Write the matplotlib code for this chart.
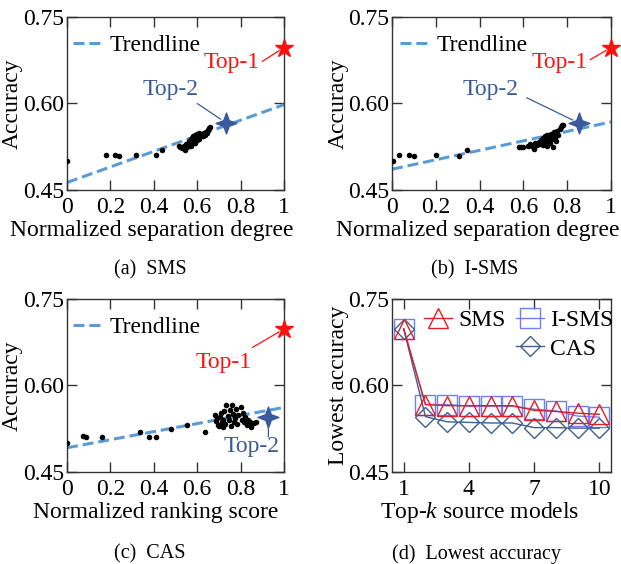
import matplotlib
matplotlib.use("Agg")
import matplotlib.pyplot as plt
from matplotlib.lines import Line2D
from matplotlib.path import Path
import numpy as np

plt.rcParams['font.family'] = ['Liberation Serif', 'DejaVu Serif']
plt.rcParams['mathtext.fontset'] = 'custom'
plt.rcParams['mathtext.rm'] = 'Liberation Serif'
plt.rcParams['mathtext.it'] = 'Liberation Serif:italic'
FS = 17

# ---- data ----
sms_x = [0.00, 0.179, 0.222, 0.238, 0.319, 0.410, 0.438, 0.515, 0.520,
         0.53, 0.54, 0.545, 0.55, 0.555, 0.56, 0.56, 0.565, 0.57, 0.57, 0.575,
         0.58, 0.58, 0.585, 0.59, 0.59, 0.595, 0.60, 0.60, 0.605, 0.61, 0.61,
         0.615, 0.62, 0.625, 0.63, 0.635, 0.64, 0.645, 0.65, 0.655, 0.66]
sms_y = [0.500, 0.511, 0.510, 0.509, 0.510, 0.510, 0.519, 0.526, 0.524,
         0.522, 0.527, 0.519, 0.530, 0.524, 0.535, 0.528, 0.532, 0.538, 0.526, 0.540,
         0.534, 0.543, 0.537, 0.545, 0.531, 0.541, 0.547, 0.536, 0.543, 0.549, 0.539,
         0.545, 0.547, 0.544, 0.548, 0.546, 0.551, 0.549, 0.554, 0.557, 0.560]
sms_top1 = (1.0, 0.697)
sms_top2 = (0.735, 0.566)
sms_trend = (0.463, 0.598)

isms_x = [0.006, 0.033, 0.079, 0.102, 0.20, 0.306, 0.341,
          0.58, 0.59, 0.60, 0.62, 0.63, 0.64, 0.65, 0.655, 0.66, 0.67, 0.675,
          0.68, 0.685, 0.69, 0.69, 0.695, 0.70, 0.70, 0.705, 0.71, 0.71, 0.715,
          0.72, 0.72, 0.725, 0.73, 0.735, 0.74, 0.745, 0.75, 0.755, 0.76, 0.765,
          0.77, 0.775, 0.78]
isms_y = [0.500, 0.511, 0.510, 0.509, 0.511, 0.509, 0.519,
          0.525, 0.525, 0.524, 0.527, 0.529, 0.526, 0.521, 0.532, 0.528, 0.534, 0.530,
          0.537, 0.532, 0.540, 0.528, 0.535, 0.543, 0.531, 0.538, 0.545, 0.527, 0.536,
          0.541, 0.532, 0.547, 0.538, 0.525, 0.550, 0.542, 0.535, 0.552, 0.546, 0.556,
          0.559, 0.562, 0.563]
isms_top1 = (1.0, 0.697)
isms_top2 = (0.854, 0.566)
isms_trend = (0.486, 0.568)

cas_x = [0.0, 0.072, 0.089, 0.16, 0.335, 0.377, 0.408, 0.478, 0.555, 0.637,
         0.68, 0.685, 0.69, 0.695, 0.70, 0.705, 0.71, 0.715, 0.72, 0.72, 0.725,
         0.73, 0.735, 0.74, 0.745, 0.75, 0.755, 0.76, 0.765, 0.77, 0.775, 0.78,
         0.785, 0.79, 0.80, 0.805, 0.81, 0.815, 0.82, 0.83, 0.835, 0.845, 0.85,
         0.86, 0.87]
cas_y = [0.500, 0.512, 0.511, 0.511, 0.519, 0.511, 0.511, 0.525, 0.531, 0.520,
         0.548, 0.538, 0.543, 0.532, 0.530, 0.545, 0.552, 0.536, 0.541, 0.528, 0.556,
         0.534, 0.566, 0.547, 0.540, 0.558, 0.530, 0.566, 0.550, 0.537, 0.544, 0.559,
         0.533, 0.548, 0.563, 0.541, 0.552, 0.537, 0.545, 0.531, 0.540, 0.536, 0.528,
         0.535, 0.537]
cas_top1 = (1.0, 0.698)
cas_top2 = (0.928, 0.545)
cas_trend = (0.492, 0.562)

k = [1, 2, 3, 4, 5, 6, 7, 8, 9, 10]
low_sms = [0.698, 0.567, 0.565, 0.565, 0.565, 0.565, 0.557, 0.555, 0.552, 0.550]
low_isms = [0.698, 0.567, 0.567, 0.564, 0.564, 0.564, 0.559, 0.556, 0.547, 0.545]
low_cas = [0.698, 0.546, 0.537, 0.536, 0.535, 0.535, 0.527, 0.527, 0.526, 0.526]

yticks = [0.45, 0.60, 0.75]
xticks = [0, 0.2, 0.4, 0.6, 0.8, 1]
xticklabels = ['0', '0.2', '0.4', '0.6', '0.8', '1']

RED = '#ff1010'
DBLUE = '#3b5a9c'
TREND = '#5b9bd5'

# slim four-point star for the Top-2 mark
ang = np.arange(8) * np.pi / 4 + np.pi / 2
rad = np.where(np.arange(8) % 2 == 0, 1.0, 0.38)
star4 = Path(np.column_stack([rad * np.cos(ang), rad * np.sin(ang)]).tolist()
             + [[0.0, 1.0]], closed=True)

fig = plt.figure(figsize=(6.21, 5.64), dpi=100)
W, H = 621.0, 564.0


def make_ax(l, t, r, b):
    return fig.add_axes([l / W, 1 - b / H, (r - l) / W, (b - t) / H])


def style(ax):
    for s in ax.spines.values():
        s.set_color('#333333')
        s.set_linewidth(1.0)
    ax.tick_params(direction='in', top=True, right=True, length=7, width=1,
                   labelsize=FS, colors='#333333', labelcolor='black')
    ax.tick_params(axis='x', pad=5)
    ax.tick_params(axis='y', pad=2)
    ax.set_ylim(0.45, 0.75)
    ax.set_yticks(yticks)
    ax.set_yticklabels(['%.2f' % v for v in yticks])


def scatter_panel(ax, xs, ys, top1, top2, trend, xlabel, lab1, lab2, line1, line2, lx):
    style(ax)
    ax.set_xlim(0, 1)
    ax.set_xticks(xticks)
    ax.set_xticklabels(xticklabels)
    ax.plot([0, 1], trend, color=TREND, lw=2.2, dashes=(3.6, 1.6), label='Trendline',
            zorder=2)
    ax.scatter(xs, ys, s=16, color='black', zorder=3, linewidths=0)
    ax.plot(*top2, marker=star4, ms=15, color=DBLUE, zorder=4, clip_on=False)
    ax.plot(*top1, marker='*', ms=13.5, color=RED, zorder=4, clip_on=False)
    ax.annotate('', xy=top1, xytext=line1,
                arrowprops=dict(arrowstyle='-', color=RED, lw=0.9, shrinkA=0, shrinkB=4))
    ax.annotate('', xy=top2, xytext=line2,
                arrowprops=dict(arrowstyle='-', color=DBLUE, lw=0.9, shrinkA=0, shrinkB=5))
    ax.text(*lab1, 'Top-1', color=RED, fontsize=FS, ha='center', va='center')
    ax.text(*lab2, 'Top-2', color=DBLUE, fontsize=FS, ha='center', va='center')
    ax.legend(loc='center left', bbox_to_anchor=(lx, 0.835), frameon=False,
              fontsize=FS, borderpad=0, borderaxespad=0, handlelength=1.3,
              handletextpad=0.25)
    ax.set_xlabel(xlabel, fontsize=FS, va='center')
    ax.set_ylabel('Accuracy', fontsize=FS, va='center')


ax1 = make_ax(67, 17, 284, 190)
scatter_panel(ax1, sms_x, sms_y, sms_top1, sms_top2, sms_trend,
              'Normalized separation degree',
              (0.76, 0.671), (0.475, 0.624), (0.90, 0.673), (0.60, 0.600), 0.028)
ax1.xaxis.set_label_coords(0.39, -0.235)
ax1.yaxis.set_label_coords(-0.25, 0.5)

ax2 = make_ax(392, 17, 611, 190)
scatter_panel(ax2, isms_x, isms_y, isms_top1, isms_top2, isms_trend,
              'Normalized separation degree',
              (0.767, 0.671), (0.45, 0.624), (0.905, 0.676), (0.615, 0.610), 0.035)
ax2.xaxis.set_label_coords(0.39, -0.235)
ax2.yaxis.set_label_coords(-0.245, 0.5)

ax3 = make_ax(67, 299, 284, 472)
scatter_panel(ax3, cas_x, cas_y, cas_top1, cas_top2, cas_trend,
              'Normalized ranking score',
              (0.72, 0.640), (0.85, 0.494), (0.855, 0.666), (0.928, 0.511), 0.028)
ax3.xaxis.set_label_coords(0.41, -0.235)
ax3.yaxis.set_label_coords(-0.25, 0.5)

# ---- panel (d) ----
ax4 = make_ax(392, 299, 611, 472)
style(ax4)
ax4.set_xlim(0.46, 10.54)
ax4.set_xticks([1, 4, 7, 10])
ax4.plot(k, low_isms, color='#6f7ff5', lw=1, marker='s', ms=15, mfc='none',
         mec='#6f7ff5', mew=1, label='I-SMS', zorder=3)
ax4.plot(k, low_cas, color='#3f5f8f', lw=1, marker='D', ms=10.5, mfc='none',
         mec='#3f5f8f', mew=1, label='CAS', zorder=3)
ax4.plot(k, low_sms, color='#dd1f26', lw=1, marker='^', ms=14, mfc='none',
         mec='#dd1f26', mew=1, label='SMS', zorder=4)
h, l = ax4.get_legend_handles_labels()
blank = Line2D([], [], color='none')
ax4.legend([h[2], blank, h[0], h[1]], ['SMS', '', 'I-SMS', 'CAS'], ncol=2,
           loc='upper left', bbox_to_anchor=(0.145, 0.94), frameon=False,
           fontsize=FS, borderpad=0, borderaxespad=0, handlelength=1.2,
           handletextpad=0.25, columnspacing=0.45, labelspacing=0.3)
ax4.set_xlabel('Top-$k$ source models', fontsize=FS, va='center')
ax4.set_ylabel('Lowest accuracy', fontsize=FS, va='center')
ax4.xaxis.set_label_coords(0.40, -0.235)
ax4.yaxis.set_label_coords(-0.245, 0.5)

# ---- captions ----
fig.text(150 / W, 1 - 270 / H, '(a)  SMS', fontsize=14.5, ha='center', va='center')
fig.text(475 / W, 1 - 270 / H, '(b)  I-SMS', fontsize=14.5, ha='center', va='center')
fig.text(150 / W, 1 - 554 / H, '(c)  CAS', fontsize=14.5, ha='center', va='center')
fig.text(477 / W, 1 - 554 / H, '(d)  Lowest accuracy', fontsize=14.5, ha='center',
         va='center')

fig.savefig('out.png', dpi=100)
